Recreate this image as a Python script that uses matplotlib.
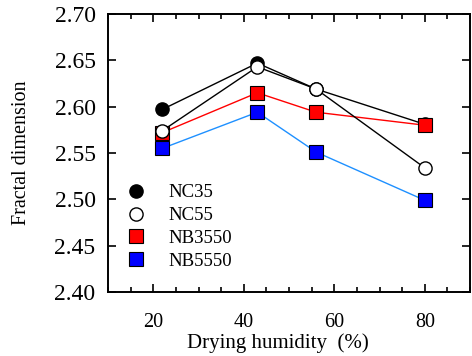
import matplotlib
matplotlib.use("Agg")
import matplotlib.pyplot as plt
from matplotlib.ticker import MultipleLocator, FormatStrFormatter

plt.rcParams['font.family'] = ['Liberation Serif', 'DejaVu Serif']

humidity = [22, 43, 56, 80]
nc35 = [2.597, 2.647, 2.619, 2.581]
nc55 = [2.574, 2.643, 2.619, 2.534]
nb3550 = [2.572, 2.615, 2.594, 2.580]
nb5550 = [2.555, 2.594, 2.551, 2.499]
labels = ["NC35", "NC55", "NB3550", "NB5550"]

fig = plt.figure(figsize=(4.72, 3.56), dpi=100)
ax = fig.add_axes([108/472, 1-292/356, (470-108)/472, (292-14)/356])

ms = 9.5
ax.plot(humidity, nc35, '-', color='black', lw=1.0, marker='o', ms=ms,
        mfc='black', mec='black', label=labels[0], zorder=3)
ax.plot(humidity, nc55, '-', color='black', lw=1.0, marker='o', ms=ms,
        mfc='white', mec='black', mew=1.0, label=labels[1], zorder=4)
ax.plot(humidity, nb3550, '-', color='red', lw=1.0, marker='s', ms=ms,
        mfc='red', mec='black', mew=0.8, label=labels[2], zorder=3)
ax.plot(humidity, nb5550, '-', color='#1E90FF', lw=1.0, marker='s', ms=ms,
        mfc='blue', mec='black', mew=0.8, label=labels[3], zorder=3)

ax.set_xlim(10, 90)
ax.set_ylim(2.40, 2.70)
ax.xaxis.set_major_locator(MultipleLocator(20))
ax.xaxis.set_minor_locator(MultipleLocator(5))
ax.yaxis.set_major_locator(MultipleLocator(0.05))
ax.yaxis.set_major_formatter(FormatStrFormatter('%.2f'))
ax.tick_params(which='both', direction='in', top=True, right=True, width=1.2)
ax.tick_params(which='major', length=6)
ax.tick_params(axis='y', which='major', labelsize=17, pad=9)
ax.tick_params(axis='x', which='major', labelsize=14.5, pad=15)
ax.tick_params(which='minor', length=3.6)
for s in ax.spines.values():
    s.set_linewidth(1.4)

ax.set_xlabel("Drying humidity  (%)", fontsize=15, va='center')
ax.xaxis.set_label_coords(0.47, (292-343)/278)
ax.set_ylabel("Fractal dimension", fontsize=14.5, va='center')
ax.yaxis.set_label_coords((22-108)/362, 0.5)

leg = ax.legend(loc='lower left', bbox_to_anchor=(0.0, 0.02), frameon=False,
                fontsize=13.5, handlelength=1.2, handletextpad=1.1,
                labelspacing=0.3, numpoints=1)
for h in leg.legend_handles:
    h.set_linestyle('None')

fig.savefig("out.png", dpi=100)
